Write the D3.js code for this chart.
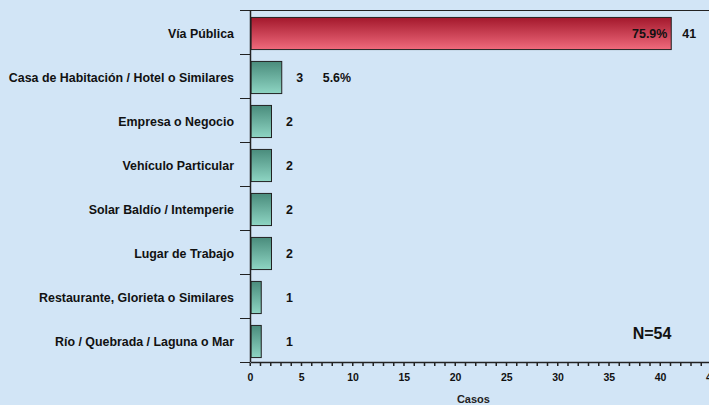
<!DOCTYPE html>
<html>
<head>
<meta charset="utf-8">
<script src="https://cdn.jsdelivr.net/npm/d3@7"></script>
<style>
  body { margin: 0; background: #d2e5f6; }
  svg { display: block; font-family: "Liberation Sans", Arial, sans-serif; font-weight: bold; }
</style>
</head>
<body>
<div id="chart"></div>
<script>
const categories = [
  "Vía Pública",
  "Casa de Habitación / Hotel o Similares",
  "Empresa o Negocio",
  "Vehículo Particular",
  "Solar Baldío / Intemperie",
  "Lugar de Trabajo",
  "Restaurante, Glorieta o Similares",
  "Río / Quebrada / Laguna o Mar"
];
const casos = [41, 3, 2, 2, 2, 2, 1, 1];
const porcentajes = ["75.9%", "5.6%", "", "", "", "", "", ""];
const xTicks = [0, 5, 10, 15, 20, 25, 30, 35, 40, 45];
const total = "N=54";

const width = 709, height = 405;
const margin = { top: 10, left: 250, bottom: 43 };

const svg = d3.select("#chart")
  .append("svg")
  .attr("width", width)
  .attr("height", height);

const defs = svg.append("defs");
const gradRed = defs.append("linearGradient").attr("id", "gRed").attr("x1", 0).attr("x2", 0).attr("y1", 0).attr("y2", 1);
gradRed.append("stop").attr("offset", "0%").attr("stop-color", "#a3182c");
gradRed.append("stop").attr("offset", "100%").attr("stop-color", "#f06a7c");
const gradGreen = defs.append("linearGradient").attr("id", "gGreen").attr("x1", 0).attr("x2", 0).attr("y1", 0).attr("y2", 1);
gradGreen.append("stop").attr("offset", "0%").attr("stop-color", "#4a8c7c");
gradGreen.append("stop").attr("offset", "100%").attr("stop-color", "#8ed5c3");

const x = d3.scaleLinear().domain([0, 45]).range([margin.left, margin.left + 45 * 10.25]);
const y = d3.scaleBand().domain(categories).range([margin.top, height - margin.bottom]).paddingInner(0.27).paddingOuter(0.135);

const axisY = height - margin.bottom;
const shift = 1.5;

// top border
svg.append("line")
  .attr("x1", margin.left).attr("x2", width)
  .attr("y1", margin.top + 0.5).attr("y2", margin.top + 0.5)
  .attr("stroke", "#222").attr("stroke-width", 1);

// bars
svg.selectAll("rect.bar")
  .data(casos)
  .enter()
  .append("rect")
  .attr("class", "bar")
  .attr("x", x(0) + 1)
  .attr("y", (d, i) => y(categories[i]) + shift)
  .attr("width", d => x(d) - x(0))
  .attr("height", y.bandwidth())
  .attr("fill", (d, i) => i === 0 ? "url(#gRed)" : "url(#gGreen)")
  .attr("stroke", "#222")
  .attr("stroke-width", 1);

// category tick marks (band boundaries)
svg.selectAll("line.cat")
  .data(d3.range(categories.length + 1))
  .enter()
  .append("line")
  .attr("x1", margin.left - 10).attr("x2", margin.left)
  .attr("y1", i => Math.round(margin.top + i * y.step()) + 0.5)
  .attr("y2", i => Math.round(margin.top + i * y.step()) + 0.5)
  .attr("stroke", "#222");

// y axis line
svg.append("line")
  .attr("x1", margin.left + 0.5).attr("x2", margin.left + 0.5)
  .attr("y1", margin.top).attr("y2", axisY)
  .attr("stroke", "#222").attr("stroke-width", 1.5);

const midY = i => y(categories[i]) + y.bandwidth() / 2 + shift;

// category labels
svg.selectAll("text.cat")
  .data(categories)
  .enter()
  .append("text")
  .attr("x", 234)
  .attr("y", (d, i) => midY(i))
  .attr("dy", "0.4em")
  .attr("text-anchor", "end")
  .style("font-size", "12.4px")
  .style("fill", "#111")
  .text(d => d);

// x axis
const xAxis = d3.axisBottom(x).tickValues(xTicks).tickSize(0).tickPadding(12);
const gx = svg.append("g")
  .attr("transform", `translate(0,${axisY})`)
  .call(xAxis);
gx.select(".domain").attr("stroke", "#222").attr("stroke-width", 1.5);
gx.selectAll("text").style("font-size", "10.5px").style("font-weight", "bold").style("fill", "#111").style("font-family", "'Liberation Sans', Arial, sans-serif");

// minor tick dots
svg.selectAll("rect.minor")
  .data(d3.range(0, 46))
  .enter()
  .append("rect")
  .attr("class", "minor")
  .attr("x", d => x(d) - 0.5)
  .attr("y", axisY + 1)
  .attr("width", 1.5)
  .attr("height", 3)
  .attr("fill", "#222");

svg.append("text")
  .attr("x", x(21.8))
  .attr("y", 403)
  .attr("text-anchor", "middle")
  .style("font-size", "11px")
  .style("fill", "#222")
  .text("Casos");

// value labels
svg.selectAll("text.val")
  .data(casos)
  .enter()
  .append("text")
  .attr("x", d => x(Math.max(d, 2)) + 19)
  .attr("y", (d, i) => midY(i))
  .attr("dy", "0.4em")
  .attr("text-anchor", "middle")
  .style("font-size", "12.4px")
  .style("fill", "#111")
  .text(d => d);

// percentage labels
svg.append("text")
  .attr("x", x(casos[0]) - 3)
  .attr("y", midY(0))
  .attr("dy", "0.4em")
  .attr("text-anchor", "end")
  .style("font-size", "12.4px")
  .style("fill", "#111")
  .text(porcentajes[0]);
svg.append("text")
  .attr("x", x(casos[1]) + 42)
  .attr("y", midY(1))
  .attr("dy", "0.4em")
  .attr("text-anchor", "start")
  .style("font-size", "12.4px")
  .style("fill", "#111")
  .text(porcentajes[1]);

svg.append("text")
  .attr("x", 652)
  .attr("y", 339)
  .attr("text-anchor", "middle")
  .style("font-size", "16px")
  .style("fill", "#111")
  .text(total);
</script>
</body>
</html>
